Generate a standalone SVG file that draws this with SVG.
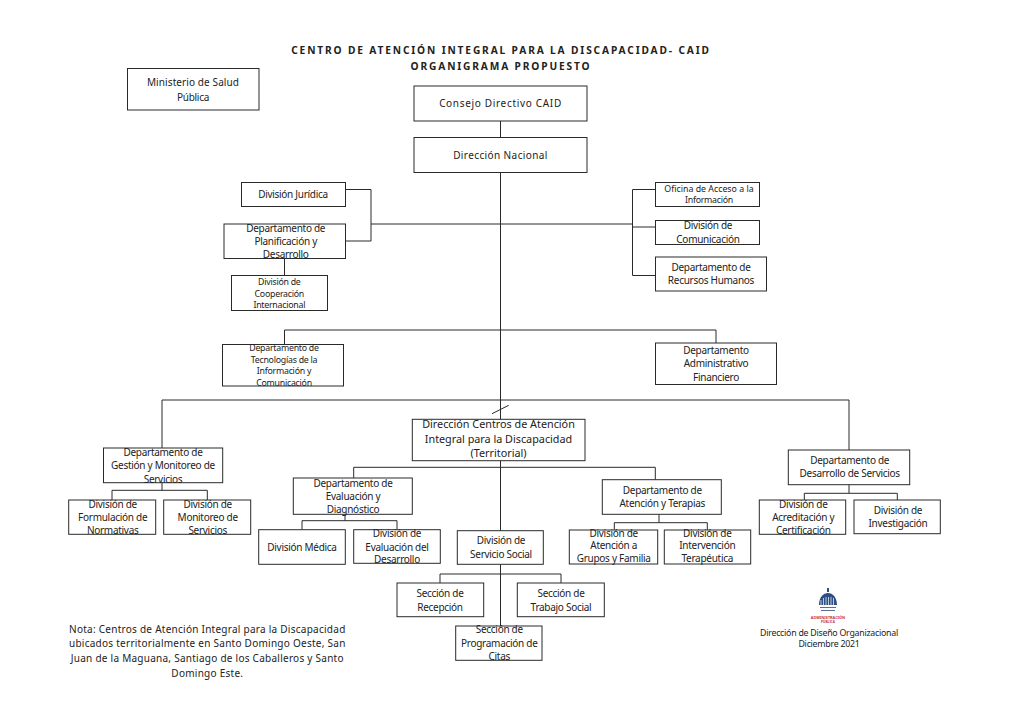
<svg xmlns="http://www.w3.org/2000/svg" width="1024" height="724" viewBox="0 0 1024 724">
<style>
text{font-family:"Noto Sans","Liberation Sans",sans-serif;font-size:10px;fill:#222;text-anchor:middle;letter-spacing:-.28px}
.s{font-size:8.8px;letter-spacing:-.25px}
.l{font-size:10.8px;letter-spacing:0}
.n{letter-spacing:.26px}
.h{font-size:10.2px;font-weight:700;letter-spacing:1.85px}
rect{fill:#fff;stroke:#2a2a2a;stroke-width:1}
#connectors path{fill:none;stroke:#2a2a2a;stroke-width:1}
</style>
<rect x="0" y="0" width="1024" height="724" style="fill:#fff;stroke:none"/>
<g id="title">
<text class="h" x="501" y="54">CENTRO DE ATENCIÓN INTEGRAL PARA LA DISCAPACIDAD- CAID</text>
<text class="h" x="501" y="69.500">ORGANIGRAMA PROPUESTO</text>
</g>
<g id="connectors">
<path d="M500.500 121V626"/>
<path d="M345.500 189.500H371V241H345.500M371 224H632.500M655.500 189.500H632.500V275.500H655.500M632.500 227H655.500"/>
<path d="M284.500 258.500V275.500"/>
<path d="M284.500 344.500V330H716V343"/>
<path d="M162 448V400H849V450"/>
<path d="M492 413.700L508.700 405.300"/>
<path d="M353.700 478V467.300H655.300V479.700"/>
<path d="M162 482.700V490.300M112 500V490.300H207.300V500"/>
<path d="M345 514.300V520.700M302 529.700V520.700H397V529.700"/>
<path d="M659 514.300V522.700M614.300 530V522.700H707.300V530"/>
<path d="M849 484.700V493.300M804.300 500V493.300H897.300V500"/>
<path d="M440 583V574H561V583"/>
</g>
<g id="ministerio"><rect x="127.500" y="68.500" width="131.500" height="41.500"/><text style="letter-spacing:.1px" x="193" y="86">Ministerio de Salud</text><text x="193" y="100.700">Pública</text></g>
<g id="consejo"><rect x="414" y="86" width="173" height="35"/><text style="letter-spacing:.68px" x="500.500" y="107">Consejo Directivo CAID</text></g>
<g id="direccion-nacional"><rect x="414" y="137.500" width="173" height="35"/><text style="letter-spacing:.4px" x="500.500" y="158.700">Dirección Nacional</text></g>
<g id="juridica"><rect x="241.500" y="182.500" width="104" height="24"/><text x="293" y="198">División Jurídica</text></g>
<g id="planificacion"><rect x="224" y="224" width="121.500" height="34.500"/><text x="285.700" y="231.700">Departamento de</text><text x="285.700" y="245">Planificación y</text><text x="285.700" y="257.700">Desarrollo</text></g>
<g id="cooperacion"><rect x="231.500" y="275.500" width="96" height="35"/><text class="s" x="279.300" y="285">División de</text><text class="s" x="279.300" y="296.700">Cooperación</text><text class="s" x="279.300" y="308">Internacional</text></g>
<g id="oficina"><rect x="655.500" y="182.500" width="104" height="24"/><text class="s" style="letter-spacing:0" x="709" y="192.300">Oficina de Acceso a la</text><text class="s" x="709" y="203.300">Información</text></g>
<g id="comunicacion"><rect x="655.500" y="220.500" width="104" height="24"/><text x="708" y="229.300">División de</text><text x="708" y="242.700">Comunicación</text></g>
<g id="rrhh"><rect x="655.500" y="257" width="111" height="34"/><text x="711" y="271">Departamento de</text><text x="711" y="284.300">Recursos Humanos</text></g>
<g id="tecnologia"><rect x="222.500" y="344.500" width="121" height="41.500"/><text class="s" x="284" y="350.700">Departamento de</text><text class="s" x="284" y="362.700">Tecnologías de la</text><text class="s" x="284" y="374.300">Información y</text><text class="s" x="284" y="386">Comunicación</text></g>
<g id="administrativo"><rect x="655.500" y="343" width="121" height="41.500"/><text x="716" y="354">Departamento</text><text x="716" y="367.300">Administrativo</text><text x="716" y="380.700">Financiero</text></g>
<g id="direccion-centros"><rect x="412.300" y="419.300" width="172.700" height="41.400"/><text class="l" x="498.500" y="428.300">Dirección Centros de Atención</text><text class="l" x="498.500" y="442.700">Integral para la Discapacidad</text><text class="l" x="498.500" y="457.300">(Territorial)</text></g>
<g id="gestion"><rect x="103.500" y="448" width="119.200" height="34.700"/><text x="163" y="456">Departamento de</text><text x="163" y="469.300">Gestión y Monitoreo de</text><text x="163" y="482.700">Servicios</text></g>
<g id="formulacion"><rect x="68.700" y="500" width="87" height="34.300"/><text x="112.700" y="507.700">División de</text><text x="112.700" y="521">Formulación de</text><text x="112.700" y="533.700">Normativas</text></g>
<g id="monitoreo"><rect x="163.700" y="500" width="87" height="34.300"/><text x="207.700" y="507.700">División de</text><text x="207.700" y="521">Monitoreo de</text><text x="207.700" y="533.700">Servicios</text></g>
<g id="evaluacion"><rect x="293.300" y="478" width="119" height="36.300"/><text x="353" y="487">Departamento de</text><text x="353" y="500.300">Evaluación y</text><text x="353" y="513.300">Diagnóstico</text></g>
<g id="medica"><rect x="258.700" y="529.700" width="86.600" height="34.600"/><text x="302" y="551">División Médica</text></g>
<g id="evaluacion-desarrollo"><rect x="353.700" y="529.700" width="86.600" height="33.600"/><text x="397" y="536.700">División de</text><text x="397" y="550.700">Evaluación del</text><text x="397" y="563.300">Desarrollo</text></g>
<g id="servicio-social"><rect x="457.300" y="530.700" width="86" height="33.600"/><text x="501" y="544.300">División de</text><text x="501" y="557.700">Servicio Social</text></g>
<g id="atencion"><rect x="602.300" y="479.700" width="119" height="34.600"/><text x="662.300" y="493.700">Departamento de</text><text x="662.300" y="507.300">Atención y Terapias</text></g>
<g id="grupos"><rect x="569.300" y="530" width="88.400" height="34"/><text x="613.700" y="536.500">División de</text><text x="613.700" y="549">Atención a</text><text x="613.700" y="561.500">Grupos y Familia</text></g>
<g id="intervencion"><rect x="664.300" y="530" width="86.400" height="34"/><text x="707.300" y="536.500">División de</text><text x="707.300" y="549">Intervención</text><text x="707.300" y="561.500">Terapéutica</text></g>
<g id="desarrollo"><rect x="788.300" y="450" width="121.400" height="34.700"/><text x="849.700" y="464.300">Departamento de</text><text x="849.700" y="477.300">Desarrollo de Servicios</text></g>
<g id="acreditacion"><rect x="759.300" y="500" width="86.400" height="34.300"/><text x="803.300" y="507.700">División de</text><text x="803.300" y="521">Acreditación y</text><text x="803.300" y="533.700">Certificación</text></g>
<g id="investigacion"><rect x="854" y="500" width="86.300" height="33.700"/><text x="898" y="514">División de</text><text x="898" y="527.300">Investigación</text></g>
<g id="recepcion"><rect x="397" y="583" width="86.700" height="33.700"/><text x="440" y="596.700">Sección de</text><text x="440" y="610.700">Recepción</text></g>
<g id="trabajo-social"><rect x="517.300" y="583" width="87" height="33.700"/><text x="561" y="596.700">Sección de</text><text x="561" y="610.700">Trabajo Social</text></g>
<g id="citas"><rect x="455.700" y="626" width="86.300" height="34.300"/><text x="499.300" y="633.300">Sección de</text><text x="499.300" y="646.700">Programación de</text><text x="499.300" y="660">Citas</text></g>
<g id="nota"><text class="n" x="207.300" y="632.700">Nota: Centros de Atención Integral para la Discapacidad</text><text class="n" x="207.300" y="647.300">ubicados territorialmente en Santo Domingo Oeste, San</text><text class="n" x="207.300" y="661.700">Juan de la Maguana, Santiago de los Caballeros y Santo</text><text class="n" x="207.300" y="676.700">Domingo Este.</text></g>
<g id="logo">
<path d="M827 588h2v4h-2zM819 605c0-8 4.500-12 9-12s9 4 9 12z" fill="#2d4f86"/>
<path d="M821 600v5M823.500 598v7M826 597v8M828.500 597v8M831 597v8M833.500 598v7" stroke="#fff" stroke-width=".7"/>
<path d="M820 607.500h16M821 610.500h14" stroke="#5a6c90" stroke-width="1.200"/>
<text x="828" y="619" style="font-size:3.800px;font-weight:700;fill:#c8323c;letter-spacing:0">ADMINISTRACIÓN</text>
<text x="828" y="623.300" style="font-size:3.200px;font-weight:700;fill:#c8323c;letter-spacing:0">PÚBLICA</text>
</g>
<g id="pie"><text class="s" x="829" y="636">Dirección de Diseño Organizacional</text><text class="s" x="829" y="647">Diciembre 2021</text></g>
</svg>
